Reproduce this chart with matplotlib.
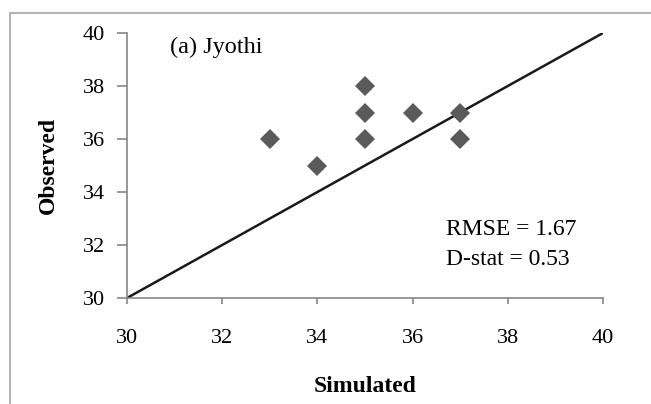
import matplotlib
matplotlib.use("Agg")
import matplotlib.pyplot as plt
from matplotlib.patches import Rectangle

simulated = [33, 34, 35, 35, 35, 36, 37, 37]
observed = [36, 35, 38, 37, 36, 37, 37, 36]
line_x = [30, 40]
line_y = [30, 40]
ticks = [30, 32, 34, 36, 38, 40]
title_text = "(a) Jyothi"
stats_text = ["RMSE = 1.67", "D-stat = 0.53"]

plt.rcParams['font.family'] = ['Liberation Serif', 'DejaVu Serif']

W, H = 651, 404
fig = plt.figure(figsize=(W/100, H/100), dpi=100)
fig.patches.append(Rectangle((9.5/W, -0.1), 1.2, 1 - 12.5/H + 0.1, transform=fig.transFigure,
                             fill=False, edgecolor='#a6a6a6', linewidth=1.2))

ax = fig.add_axes([127/W, 1 - 298/H, (603-127)/W, (298-33)/H])
ax.plot(line_x, line_y, color='#1a1a1a', linewidth=1.8, zorder=2)
ax.plot(simulated, observed, linestyle='none', marker='D', markersize=10,
        color='#5a5a5a', markeredgewidth=0, zorder=3)
ax.set_xlim(30, 40)
ax.set_ylim(30, 40)
ax.set_xticks(ticks)
ax.set_yticks(ticks)
for s in ['top', 'right']:
    ax.spines[s].set_visible(False)
for s in ['left', 'bottom']:
    ax.spines[s].set_color('#868686')
    ax.spines[s].set_linewidth(1.2)
ax.tick_params(axis='y', direction='out', length=7, width=1.2, color='#868686', labelsize=16, pad=9)
ax.tick_params(axis='x', direction='out', length=4.5, width=1.2, color='#868686', labelsize=16, pad=18)
fig.text(48/W, 1 - 165/H, 'Observed', fontsize=17, fontweight='bold', rotation=90,
         ha='center', va='center')
fig.text(365/W, 1 - 386/H, 'Simulated', fontsize=17, fontweight='bold', ha='center', va='center')
ax.text(0.09, 0.985, title_text, transform=ax.transAxes, fontsize=17.5, va='top', ha='left')
ax.text(0.67, 0.238, stats_text[0], transform=ax.transAxes, fontsize=17, va='baseline', ha='left')
ax.text(0.67, 0.125, stats_text[1], transform=ax.transAxes, fontsize=17, va='baseline', ha='left')
fig.savefig('out.png', dpi=100)
